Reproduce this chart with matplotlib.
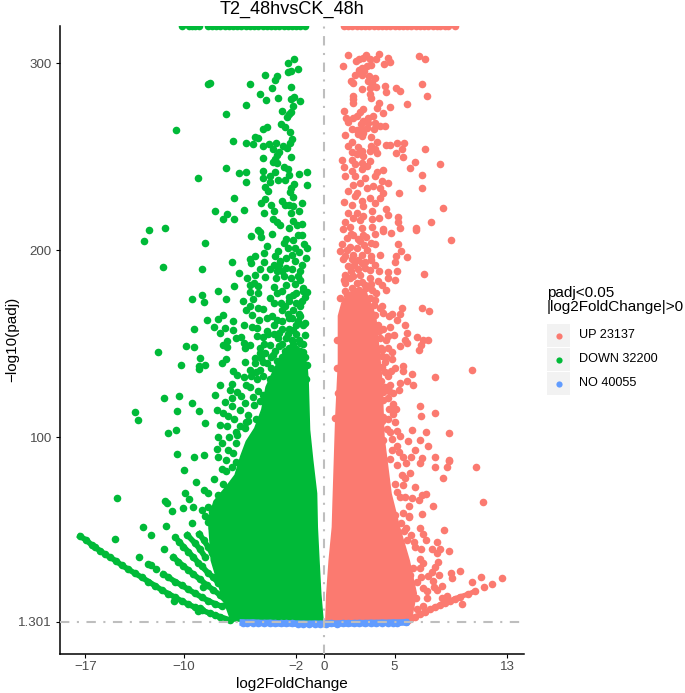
import matplotlib
matplotlib.use("Agg")
import matplotlib.pyplot as plt
from matplotlib.patches import Rectangle

plt.rcParams["font.family"] = ["Liberation Sans", "DejaVu Sans"]

RED = "#FB7A70"
GREEN = "#00BA38"
BLUE = "#619CFF"
LINE_GREY = "#BEBEBE"
TICK_GREY = "#4D4D4D"
KEY_GREY = "#F2F2F2"
TOP_CAP = 320
POINT_SIZE = 30

X_TICKS = [-17, -10, -2, 0, 5, 13]
X_LABELS = ["\u221217", "\u221210", "\u22122", "0", "5", "13"]
Y_TICKS = [1.301, 100, 200, 300]
Y_LABELS = ["1.301", "100", "200", "300"]
LEGEND_LABELS = ["UP 23137", "DOWN 32200", "NO 40055"]

# genes that hit the padj cap, sit on the top edge
down_capped = [-10.1, -9.6, -9.4, -9.2, -8.95, -8.25, -8.0, -7.7, -7.4, -7.1, -6.8, -6.5, -6.2, -5.9, -5.6, -5.3,
               -5.0, -4.7, -4.4, -4.1, -3.8, -3.5, -3.2, -2.9, -2.6, -2.3, -2.0, -1.7, -1.4]
up_capped = [1.4, 1.7, 2.0, 2.3, 2.6, 2.9, 3.2, 3.5, 3.8, 4.1, 4.4, 4.7, 5.0, 5.3, 5.6, 5.9, 6.2, 6.5, 6.8, 7.1,
             7.4, 7.7, 8.0, 8.2, 8.6, 8.8, 9.33]

# solid lower part of each arm, as (log2FC, -log10 padj) outlines
down_mass = [(-0.03, 1.3), (-0.2, 16), (-0.33, 34), (-0.45, 52), (-0.5, 70), (-0.78, 88), (-1.0, 104), (-1.1, 130),
             (-1.2, 140), (-2.0, 148), (-3.0, 145), (-3.6, 137), (-4.2, 127), (-4.5, 115), (-5.0, 105), (-5.6, 98),
             (-6.0, 90), (-6.4, 80), (-7.0, 74), (-7.9, 66), (-8.3, 56), (-8.1, 34), (-7.4, 16.5), (-6.7, 2.0),
             (-6.5, 1.3)]
up_mass = [(0.05, 1.3), (0.12, 16), (0.29, 34), (0.52, 52), (0.57, 65), (0.76, 110), (0.95, 140), (0.95, 165),
           (1.2, 172), (1.7, 178), (3.0, 178), (3.7, 165), (3.9, 150), (4.1, 135), (4.2, 120), (4.3, 100), (4.5, 88),
           (4.8, 70), (5.4, 52), (6.1, 34), (6.6, 16.5), (6.3, 4.5), (5.85, 1.3)]

down_points = [
    (-2.16, 302.2), (-2.58, 300), (-1.89, 297.2), (-2.35, 296), (-2.6, 295.4), (-4.22, 294), (-3.39, 293.2),
    (-3.5, 291), (-8.16, 289.7), (-8.25, 289), (-5.31, 288.8), (-2.35, 287.5), (-3.72, 286.6), (-4.58, 283.4),
    (-4.15, 280.6), (-3.3, 281.5), (-2.39, 281.1), (-2.16, 281.8), (-1.71, 279.7), (-2.25, 277.2), (-5.57, 277.5),
    (-3.01, 274.3), (-2.35, 274), (-2.49, 272.7), (-2.65, 271.5), (-7.02, 273.1), (-3.08, 267.7), (-2.82, 266.1),
    (-4.06, 266.1), (-4.34, 265), (-10.58, 264.5), (-2.42, 263.4), (-4.95, 260.8), (-4.7, 260), (-6.52, 258.4),
    (-2.28, 259.7), (-2.42, 257.2), (-5.55, 257.5), (-5.05, 257), (-4.38, 255.6), (-3.96, 257), (-3.42, 257.4),
    (-3.67, 254.3), (-2.92, 255.8), (-2.68, 254.5), (-3.2, 252.5), (-3.35, 250.8), (-4.38, 249.5), (-2.37, 250),
    (-3.51, 248.6), (-3.63, 247.2), (-3.39, 246.8), (-7.02, 244.3), (-2.85, 244.7), (-2.58, 243.3), (-4.38, 242.6),
    (-3.51, 241.8), (-6.07, 241.1), (-5.57, 241.8), (-1.25, 241.8), (-1.82, 240.6), (-2.55, 240.4), (-3.86, 239.7),
    (-4.4, 238.8), (-8.99, 238.5), (-3.3, 237.7), (-2.8, 237.7), (-3.9, 236.8), (-5.57, 236.8), (-1.21, 234.9),
    (-2.16, 235.6), (-2.39, 233.3), (-4.2, 234), (-4.03, 231.7), (-2.42, 231.1), (-6.45, 227.9), (-2.2, 228.6),
    (-4.25, 227.2), (-4.53, 225.1), (-3.8, 224.5), (-3.0, 226.3), (-2.8, 224.5), (-2.5, 224.5), (-1.57, 225.2),
    (-2.2, 223.6), (-4.3, 220), (-3.55, 221), (-5.71, 221.8), (-7.78, 221), (-6.95, 219.2), (-7.19, 217),
    (-6.45, 216.5), (-1.8, 221), (-2.35, 220), (-3.63, 216.5), (-3.4, 215.2), (-2.2, 215.6), (-3.15, 213.5),
    (-1.97, 213.8), (-12.5, 211), (-11.32, 211.9), (-4.75, 210.8), (-12.83, 205.2), (-8.51, 203.8), (-5.22, 207.5),
    (-4.6, 209.7), (-4.5, 207.2), (-4.1, 202.2), (-4.3, 198.6), (-3.3, 199.5), (-3.53, 196.8), (-2.7, 206.1),
    (-2.2, 205.7), (-1.6, 208.4), (-1.46, 203.6), (-1.2, 201.3), (-2.1, 201.3), (-2.3, 197.7), (-2.1, 194.1),
    (-6.55, 194), (-5.3, 195.4), (-4.95, 196.8), (-5.2, 193.3), (-4.3, 193.6), (-3.6, 192.4), (-3.15, 194.1),
    (-1.6, 192.4), (-11.5, 190.9), (-8.68, 190), (-4.58, 190.2), (-2.7, 190.6), (-3.4, 188.8), (-1.7, 188.8),
    (-6.05, 187.7), (-5.5, 185.2), (-4.95, 187), (-4.25, 185.6), (-3.45, 185.2), (-2.35, 185.2), (-1.75, 184.3),
    (-5.3, 181.6), (-5, 182.5), (-4.7, 180.8), (-6.45, 180.8), (-3.6, 180.4), (-2.7, 181.6), (-7.55, 178.1),
    (-5.3, 177.7), (-4.7, 177.2), (-8.73, 176.3), (-1.5, 179.9), (-1.2, 177.9), (-2.2, 176.3), (-9.44, 173.8),
    (-7, 174.1), (-8.6, 172.4), (-5.05, 174.1), (-5.8, 172.7), (-3.85, 174.5), (-3.6, 171.8), (-2.5, 172.7),
    (-5.3, 170.4), (-4.7, 169.2), (-4.35, 168.8), (-1.7, 170.1), (-5.6, 168.3), (-5.15, 165.6), (-7.2, 165.4),
    (-7.6, 163.4), (-8.37, 162.7), (-6.5, 162.2), (-4.65, 162.9), (-4.1, 163.8), (-3.4, 162.9), (-2.55, 163.8),
    (-1.7, 164.7), (-5.75, 160.2), (-7.85, 159), (-7.05, 158.6), (-9.3, 157.9), (-6.5, 157.5), (-5.15, 159),
    (-4.8, 158.4), (-3.6, 160.2), (-1.4, 161.1), (-7.4, 155.8), (-4.1, 156.7), (-3.2, 155.8), (-2.2, 157.5),
    (-1.4, 154.9), (-6.3, 153.1), (-5.95, 153.6), (-4.8, 154), (-4.4, 153.6), (-2.7, 153.1), (-6.95, 151.3),
    (-7.2, 149.5), (-6.95, 148.1), (-5.75, 150.4), (-5.3, 149.5), (-3.9, 149.5), (-3.2, 148.6), (-1.7, 150.4),
    (-9.85, 148.8), (-9.25, 148.1), (-5.65, 147.7), (-4.6, 147.7), (-11.85, 145.6), (-4.6, 145.1), (-2.7, 146),
    (-1.5, 145.4), (-8.82, 142.2), (-7, 142), (-7.25, 139.9), (-4.95, 142.4), (-4.5, 142.4), (-3.65, 144.2),
    (-2.2, 143.3), (-10.2, 138.8), (-8.5, 138.5), (-8.9, 138.3), (-8.9, 136.7), (-5.65, 140.2), (-4.95, 139.7),
    (-4.1, 139.7), (-3.2, 139.7), (-1.2, 138.5), (-6.5, 135.2), (-6.2, 133.1), (-5.75, 132), (-5.3, 136.1),
    (-4.6, 136.1), (-3.0, 168), (-2.6, 166), (-2.2, 168), (-1.8, 166), (-1.5, 160), (-2.0, 160), (-2.5, 158),
    (-3.0, 158), (-3.6, 155), (-2.3, 152), (-1.8, 152), (-3.0, 150), (-2.5, 148), (-2.0, 147), (-3.5, 146),
    (-1.5, 150), (-3.0, 143), (-2.5, 142), (-1.8, 141), (-1.4, 143), (-3.4, 141), (-4.2, 145), (-3.8, 137),
    (-3.2, 136), (-2.6, 137), (-2.1, 137), (-1.6, 137), (-4.4, 133), (-4.8, 131), (-5.2, 133), (-3.9, 131),
    (-3, 130), (-2.4, 131), (-1.8, 132), (-1.3, 131), (-1.5, 178), (-2.1, 182), (-3, 178), (-2.5, 175),
    (-2, 172), (-1.4, 175), (-3.1, 172), (-2.9, 186), (-2.3, 190), (-3.2, 192), (-2.7, 196),
    (-13.5, 113.6), (-13.25, 109.5), (-11.4, 121.1), (-10.35, 121.9), (-9.4, 118.1), (-10.5, 113.8), (-8.95, 113.8),
    (-8.5, 107.4), (-11.1, 102.2), (-10.55, 103.8), (-10.5, 91), (-9.3, 89.4), (-8.6, 90.6), (-7.4, 128.1),
    (-6.55, 128.3), (-6.75, 125.1), (-6.2, 124.3), (-7.75, 122.7), (-7.05, 118.6), (-6.6, 121), (-5.1, 121.5),
    (-4.35, 122.7), (-4.6, 119.2), (-7.65, 114.7), (-7.2, 112.9), (-6.85, 111.5), (-6.6, 116.5), (-5.65, 118.3),
    (-6, 114.7), (-5.4, 112), (-5.4, 108.5), (-7.4, 106.7), (-6.9, 105.8), (-6, 105.8), (-5.65, 104.9),
    (-7.55, 100.4), (-6.25, 101.3), (-7.3, 96.9), (-6.3, 96.9), (-7.65, 93.6), (-6.85, 93.3), (-6.5, 91.5),
    (-7.55, 89.7), (-5.75, 88.8),
    (-14.73, 67.7), (-11.32, 65.9), (-11.2, 65), (-9.9, 70.4), (-9.65, 66.8), (-10.04, 62.2), (-9.37, 62.9),
    (-10.84, 60.6), (-10.02, 82.5), (-9.1, 76), (-8.6, 71.8), (-8.25, 70), (-12.93, 52.2), (-11.27, 52.6),
    (-9.43, 54.3), (-12.36, 47.6), (-10.63, 46.7), (-14.88, 45.8), (-11.41, 40.2), (-13.2, 36), (-12.52, 32.2),
    (-12.36, 31.5), (-11.98, 29.7), (-10.67, 12.4), (-9.0, 7), (-7.78, 4.9), (-8.62, 20.1), (-8.85, 8.5),
    (-7.85, 77.5), (-7.0, 81.7), (-6.25, 77.2), (-8.25, 62.9), (-8.73, 61.1), (-8.25, 54.5), (-8, 51.3),
    (-7.45, 54.9), (-6.45, 56.7), (-7.55, 69.2), (-6.85, 65.6),
    (-1.6, 214), (-2.5, 212), (-1.9, 208), (-2.9, 204), (-3.7, 209), (-1.3, 196), (-1.8, 199), (-2.6, 201),
    (-3.0, 189), (-1.9, 186), (-3.9, 190), (-3.4, 177), (-2.0, 177), (-1.6, 173), (-2.8, 170), (-2.3, 164),
    (-1.9, 162), (-3.0, 162), (-3.7, 165), (-3.3, 153), (-2.6, 155), (-2.0, 155), (-4.3, 150), (-4.0, 155),
    (-2.2, 150), (-2.8, 146), (-1.7, 146), (-3.8, 143), (-4.4, 140), (-2.2, 140), (-3.0, 138), (-4.9, 135),
    (-5.6, 128), (-4.7, 125), (-5.3, 127), (-5.0, 117), (-5.9, 122), (-4.9, 110), (-5.6, 108), (-6.4, 110),
    (-6.3, 103), (-6.8, 100), (-7.0, 88), (-6.3, 87), (-7.3, 83), (-6.6, 84), (-8.0, 60), (-7.6, 62),
    (-7.2, 75), (-8.5, 58),
]

# the thin arms at bottom left, genes with very low counts
down_arm_a = [(-17.39, 47), (-16.96, 45.1), (-16.56, 42.4), (-16.32, 41.1), (-15.96, 39.3), (-15.61, 37.4),
              (-15.25, 35.8), (-14.82, 33.8), (-14.42, 31.5), (-13.95, 29.4), (-13.48, 27.2), (-13.0, 25.1),
              (-12.52, 22.8), (-12.05, 20.6), (-11.58, 18.3), (-11.1, 16.3), (-10.63, 14.4), (-10.15, 12.4),
              (-9.68, 10.6), (-9.2, 9), (-8.73, 7.6), (-8.14, 5.8), (-7.43, 4), (-6.7, 2.2)]
down_arm_b = [(-11.46, 26.7), (-11.1, 25.1), (-10.63, 22.8), (-10.15, 20.8), (-9.68, 18.6), (-9.2, 16.5),
              (-8.73, 14.4), (-8.25, 12.5), (-7.8, 11), (-7.3, 9.5)]
down_arm_c = [(-10.74, 35.8), (-10.39, 33.5), (-10.03, 31.1), (-9.68, 29), (-9.32, 26.7), (-8.85, 24),
              (-8.37, 21), (-7.9, 18.3), (-7.42, 15.6), (-6.95, 12)]
down_arm_d = [(-10.34, 44.2), (-10.03, 41.5), (-9.68, 38.8), (-9.32, 35.8), (-8.97, 32.9), (-8.73, 31.1),
              (-8.25, 27.2), (-7.9, 25.1), (-7.54, 21.9)]
down_arm_e = [(-9.75, 47.7), (-9.2, 43.3), (-8.85, 40.1), (-8.5, 36.1)]
down_arm_f = [(-8.9, 48.3), (-8.6, 45.1), (-8.25, 41.1), (-8, 37.9)]

up_points = [
    (1.66, 304.3), (2.95, 304.3), (3.91, 304.8), (6.74, 304), (7.14, 302.5), (2.78, 303), (2.5, 302.5), (2.26, 301.3),
    (3.25, 302.2), (3.68, 302.2), (4.51, 302.9), (4.7, 300.9), (4.25, 299.5), (1.33, 298.4), (3.32, 299.1),
    (3.02, 298.6), (2.66, 297.7), (2.5, 296.5), (2.85, 296), (2.19, 294), (2.66, 293.6), (3.2, 293.2), (3.6, 292.2),
    (3.13, 290.6), (1.88, 290.6), (2.07, 289.7), (3.37, 289.3), (4.32, 287.9), (3.66, 287.5), (3.25, 287),
    (6.93, 289.1), (5.13, 287), (5.41, 285.2), (2.68, 286.1), (4.39, 284.5), (7.33, 282.5), (3.25, 283.4), (3.3, 281.6),
    (2.04, 282.5), (2.07, 280.8), (2.07, 279), (3.92, 279), (5.89, 278.4), (4.68, 276.5), (3.73, 276), (2.73, 275.4),
    (2.54, 274), (1.4, 274.7), (4.18, 273.4), (1.57, 270.9), (2.07, 270.9), (1.71, 268.6), (2.35, 271.8), (3.14, 270.9),
    (3.44, 271.8), (2.78, 269.1), (3.14, 268.3), (2.59, 267.4), (3.6, 267.9), (4.32, 266.6), (3.96, 266.5), (1.95, 265),
    (2.3, 264.3), (2.66, 264.7), (3.01, 265.6), (3.54, 264.7), (1.5, 261.5), (2.66, 261.1), (3.32, 260.8), (2.42, 262),
    (2.78, 262.9), (3.75, 257.9), (2, 257.9), (4.37, 256.5), (4.7, 256.5), (5.2, 257.4), (5.67, 257.4), (1.71, 255.6),
    (2.42, 255.2), (3.32, 255.6), (3.6, 254.3), (5.53, 254), (7.19, 254), (1.95, 252.5), (2.66, 253.1), (3.77, 251.8),
    (5.13, 252.2), (5.6, 250), (3.25, 253.1), (2.3, 251.3), (2.78, 250.4), (1.24, 248.1), (6.45, 247.2), (8.26, 246.1),
    (1.95, 248.3), (3.25, 247.7), (2.66, 246.8), (1.4, 244.5), (2.19, 246), (3.02, 245), (6.08, 244.2), (1.95, 242.4),
    (2.66, 243.3), (4.15, 242.9), (3.73, 242), (6.93, 240.2), (1.47, 239.7), (2.19, 239.7), (3.6, 239.7), (2.9, 238.8),
    (2.54, 236.1), (4.13, 237), (4.5, 236.1), (2.07, 235.2), (3.49, 234.3), (3.96, 233.4), (6.98, 233.4), (1.71, 231.7),
    (2.3, 230.4), (3.01, 233.4), (4.2, 230.8), (5.29, 230.9), (3.25, 228.1), (3.96, 228.1), (2.19, 229), (1.4, 226),
    (2.66, 226.3), (3.6, 225.4), (1.95, 224.5), (2.78, 223.6), (8.47, 222.9), (4.37, 222.2), (1.71, 220), (2.3, 220),
    (3.37, 221), (4.53, 219), (2.78, 218.3), (2.07, 217.4), (3.92, 217.4), (5.27, 217.7), (3.37, 216.9), (1.47, 215),
    (2.54, 216.1), (5.25, 215), (7.57, 215.4), (1.83, 212.4), (3.37, 212.4), (4.15, 211.5), (5.39, 212), (6.53, 211.8),
    (1.3, 211.5), (2.66, 212), (9.02, 205.4), (6.53, 210.7), (4.75, 209.3), (4.2, 210.2), (3.6, 208.6), (2.78, 208.4),
    (2.07, 208.4), (1.59, 206.6), (5.27, 203.6), (3.6, 203.6), (1.26, 203.4), (2.54, 204.9), (1.83, 201.8), (1.12, 199.9),
    (5.46, 199.5), (2.31, 201.3), (3.01, 200), (2.07, 197.7), (2.66, 197.7), (3.96, 197.7), (5.1, 196.8), (5.89, 196.6),
    (1.31, 195.4), (3.32, 194.7), (1.95, 195.4), (5, 193.8), (2.66, 193.2), (1.71, 191.5), (2.9, 190.6), (3.25, 189.7),
    (3.89, 189.1), (4.56, 188.4), (5.17, 189.1), (7.07, 187.5), (4.56, 185.2), (5, 184), (1.47, 187), (2.07, 186.1),
    (2.54, 187), (3.25, 185.2), (3.85, 183.4), (1.47, 182.5), (2.3, 182.5), (2.9, 181.6), (4.08, 181.6), (4.37, 179),
    (1.47, 178), (2.3, 178), (3.37, 179), (1.12, 174.7), (1.71, 174.5), (2.78, 177.2), (3.25, 174.5), (3.6, 173.6),
    (2.07, 172.7), (2.66, 172.2), (1.59, 169.7), (5.53, 169), (6.95, 169.2), (7.48, 167.5), (3.97, 169.2), (3.25, 169.2),
    (2.3, 168.3), (4.2, 166.5), (4.8, 166.1), (5.4, 166.1), (5.2, 162.9), (1.83, 165.6), (2.78, 165.6), (3.6, 165.6),
    (5.74, 160.2), (2.3, 162.9), (1.83, 161.1), (3.42, 160.6), (2.78, 159.3), (1.4, 158.4), (4.68, 159), (3.9, 157),
    (5.89, 156), (1.24, 154.9), (2.07, 155.8), (4.96, 154.7), (3.25, 155.8), (4.56, 154), (6.6, 153.4), (7.38, 152),
    (7, 152), (0.93, 152), (3.97, 153.1), (2.78, 153.1), (5.74, 151.8), (5.91, 150.2), (5.39, 148.6), (6.88, 149.5),
    (6.74, 146.8), (1.31, 149.5), (2.07, 149.5), (3.37, 150.4), (4.56, 147.7), (4.08, 146.8), (4.8, 145.4), (2.78, 146.8),
    (4.08, 143.6), (4.8, 141.8), (1.95, 146), (3.37, 145), (1.24, 140.6), (2.3, 142.4), (4.32, 140), (3.49, 139.7),
    (4.08, 137.4), (5.63, 137.9), (5.03, 136.8), (4.72, 135.4), (5.58, 135.2), (10.54, 136.1), (0.93, 137), (6.25, 134),
    (7.85, 132), (4.5, 132.6), (3.97, 129.4), (5.86, 129.9), (5.39, 129), (6.34, 128.1), (4.68, 128.1), (1.24, 127.2),
    (5.32, 125.4), (4.2, 124), (4.9, 123.6), (4.56, 121), (1, 123.6), (4.2, 120), (6.8, 116.7), (5.1, 115.1), (4.6, 115.1),
    (7.88, 112.9), (6.88, 111.5), (4.9, 112.4), (3.85, 115.1), (4.2, 111.1), (0.76, 110.2), (4.1, 108.5), (6.27, 104),
    (4.44, 104.4), (5.18, 103.5), (7.24, 102.8), (8.85, 102.2), (5.39, 100.8), (6.81, 98.6), (5.98, 97.8), (4.2, 98.6),
    (4.8, 99), (5.15, 95.4), (7.41, 95.1), (6.43, 93.3), (4.8, 93.3), (5.62, 89.7), (6.15, 89.7), (6.93, 88.8),
    (7.85, 89.2), (8.9, 88), (4.68, 88.3),
    (10.8, 84), (11.27, 65.4), (8.9, 87.4), (8.76, 84), (7.85, 84), (8.45, 78.1), (6.81, 86.5), (5.81, 86.1), (6.1, 81.1),
    (5.74, 78.1), (5.62, 74.5), (6.48, 73.6), (5.15, 70.9), (7.24, 69.7), (6.93, 69.2), (6.72, 66.5), (5.74, 68.3),
    (6.22, 67.4), (7.7, 63.1), (6, 63.3), (5.6, 59.7), (6.95, 59.2), (6.05, 57.2), (5.03, 58.4), (5.43, 54), (8.52, 50.6),
    (6.81, 51.3), (5.81, 51.3), (7, 48.3), (7.24, 45), (6.15, 47.7), (8, 44.2), (5.9, 45), (6.48, 41.5), (7.66, 40.4),
    (8.24, 40.4), (8.85, 39.3), (6.89, 40), (8, 37.9), (4.87, 39.7), (5.63, 37.6), (8.12, 33.1), (7.88, 30.8), (7.64, 28.1),
    (7.4, 25.8), (7.05, 32.6), (6.81, 30.2), (9.62, 28.3), (9.02, 27.2), (9.06, 24.5), (8.19, 26.3), (11.15, 25.4),
    (12.67, 24.7), (10.53, 22.6), (7.71, 23.3), (11.91, 21.7), (11.39, 19.9), (8.35, 20.4), (8, 18.3), (6.58, 22.7),
    (7.05, 19.2), (6.1, 26.3), (8.7, 15.1), (8.35, 13.8), (7.33, 13.8), (9.78, 11),
    (1.9, 209), (2.4, 206), (3.0, 207), (3.3, 204), (1.6, 200), (2.8, 203), (3.3, 197), (2.4, 195), (1.5, 197),
    (2.9, 194), (2.1, 192), (1.9, 189), (2.4, 190), (3.6, 192), (1.4, 184), (1.8, 185), (2.7, 183), (3.3, 182),
    (3.7, 177), (2.0, 180), (2.5, 179), (1.6, 176), (3.0, 180), (3.5, 171), (2.9, 173), (4.1, 170), (4.6, 165),
    (3.8, 160), (4.2, 158), (4.4, 152), (4.0, 148), (4.4, 143), (3.6, 140), (4.3, 135), (4.0, 130), (4.6, 125),
    (4.3, 127), (4.9, 118), (4.5, 110), (5.0, 108), (4.7, 103), (5.3, 92), (5.2, 85), (5.5, 80), (5.0, 75),
    (5.4, 68), (6.0, 58), (5.7, 50), (6.4, 44), (6.8, 35), (6.3, 30), (6.9, 25), (6.5, 14), (7.3, 18),
    (7.8, 20), (7.0, 10), (6.6, 8),
]
up_arm = [(5.85, 1.6), (6.1, 2.6), (6.45, 4), (6.81, 5.4), (7.15, 6.7), (7.52, 7.9), (7.9, 9.2), (8.23, 10.3),
          (8.6, 11.5), (8.95, 12.6), (9.3, 13.7), (9.66, 14.7), (10.25, 16.1), (10.73, 17.7)]

# not significant, under the dashed padj line
no_points = [(-5.8, 0.9), (-5.5, 0.8), (-5.1, 0.9), (-4.7, 0.7), (-4.3, 0.6), (-3.9, 0.7), (-3.5, 0.5), (-3.1, 0.4),
             (-2.7, 0.5), (-2.3, 0.4), (-1.9, 0.3), (-1.5, 0.3), (-1.1, 0.2), (-0.7, 0.3), (-0.3, 0.2), (0.1, 0.3),
             (0.5, 0.4), (0.9, 0.3), (1.3, 0.5), (1.7, 0.4), (2.1, 0.5), (2.5, 0.6), (2.9, 0.5), (3.3, 0.7),
             (3.7, 0.6), (4.1, 0.8), (4.5, 0.7), (4.9, 0.9), (5.2, 0.8), (5.79, 1.0)]


def draw_scatter(ax, points, color):
    xs = [p[0] for p in points]
    ys = [p[1] for p in points]
    ax.scatter(xs, ys, s=POINT_SIZE, color=color, linewidths=0, zorder=2)


def draw_mass(ax, outline, color):
    xs = [p[0] for p in outline]
    ys = [p[1] for p in outline]
    ax.fill(xs, ys, color=color, linewidth=0, zorder=2)


fig = plt.figure(figsize=(6.85, 6.93), dpi=100)
ax = fig.add_axes([59.5 / 685, 1 - 653.5 / 693, (524 - 59.5) / 685, (653.5 - 26) / 693])
ax.set_xlim(-18.85, 14.21)
ax.set_ylim(-15.67, TOP_CAP)

draw_mass(ax, up_mass, RED)
draw_mass(ax, down_mass, GREEN)
draw_scatter(ax, up_points, RED)
draw_scatter(ax, up_arm, RED)
ax.plot([p[0] for p in up_arm], [p[1] for p in up_arm], color=RED, lw=3.6, zorder=2)
draw_scatter(ax, [(x, TOP_CAP) for x in up_capped], RED)
draw_scatter(ax, down_points, GREEN)
for arm in [down_arm_a, down_arm_b, down_arm_c, down_arm_d, down_arm_e, down_arm_f]:
    draw_scatter(ax, arm, GREEN)
    ax.plot([p[0] for p in arm], [p[1] for p in arm], color=GREEN, lw=4, zorder=2)
draw_scatter(ax, [(x, TOP_CAP) for x in down_capped], GREEN)
draw_scatter(ax, no_points, BLUE)
ax.plot([p[0] for p in no_points], [p[1] for p in no_points], color=BLUE, lw=4.8, zorder=2)

dash = (0, (4.5, 3.6, 1, 3.6))
ax.axhline(1.301, color=LINE_GREY, lw=1.5, ls=dash, zorder=3)
ax.axvline(0, color=LINE_GREY, lw=1.5, ls=dash, zorder=3)

ax.spines["top"].set_visible(False)
ax.spines["right"].set_visible(False)
ax.spines["left"].set_linewidth(1.1)
ax.spines["bottom"].set_linewidth(1.1)
ax.set_xticks(X_TICKS, X_LABELS)
ax.set_yticks(Y_TICKS, Y_LABELS)
ax.tick_params(length=2.6, width=0.8, labelsize=9.6, labelcolor=TICK_GREY, pad=3)

ax.set_xlabel("log2FoldChange", fontsize=11, labelpad=3)
ax.set_ylabel("\u2212log10(padj)", fontsize=11)
ax.yaxis.set_label_coords(-0.087, 0.5)
ax.set_title("T2_48hvsCK_48h", fontsize=13.1, pad=9)

# legend is laid out in pixels on its own overlay
leg = fig.add_axes([0, 0, 1, 1])
leg.set_xlim(0, 685)
leg.set_ylim(693, 0)
leg.axis("off")
leg.text(547, 300, "padj<0.05\n|log2FoldChange|>0", fontsize=11.0, va="center", ha="left", linespacing=1.05)
for i, (label, color) in enumerate(zip(LEGEND_LABELS, [RED, GREEN, BLUE])):
    top = 324 + i * 24
    leg.add_patch(Rectangle((547.5, top), 22.5, 23, color=KEY_GREY, lw=0))
    leg.scatter([558.7], [top + 11.5], s=20, color=color, linewidths=0)
    leg.text(579, top + 11.5, label, fontsize=9.1, va="center", ha="left")

fig.savefig("out.png", dpi=100)
